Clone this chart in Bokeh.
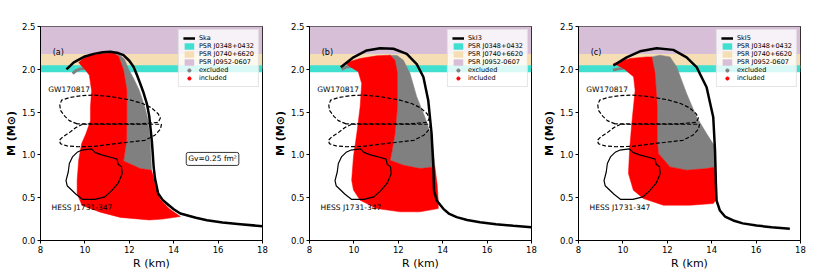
from bokeh.plotting import figure
from bokeh.layouts import row
from bokeh.models import Range1d, Label, Legend, LegendItem, FixedTicker, PrintfTickFormatter
from bokeh.embed import file_html
from bokeh.resources import INLINE

# ---------------- data ----------------
X_TICKS = [8, 10, 12, 14, 16, 18]
Y_TICKS = [0.0, 0.5, 1.0, 1.5, 2.0, 2.5]
X_MIN, X_MAX = 8, 18
Y_MIN, Y_MAX = 0.0, 2.5

PSR_NAMES = ["PSR J0348+0432", "PSR J0740+6620", "PSR J0952-0607"]
PSR_LOW = [1.965, 2.01, 2.18]
PSR_HIGH = [2.048, 2.18, 2.52]
PSR_COLORS = ["turquoise", "wheat", "thistle"]

EOS_NAMES = ["Ska", "SkI3", "SkI5"]
PANEL_TAGS = ["(a)", "(b)", "(c)"]
GV_TEXT = "Gv=0.25 fm²"

# EOS mass-radius curves
SKA_R = [9.17, 9.5, 10.0, 10.4, 10.8, 11.14, 11.5, 11.74, 12.0, 12.19, 12.35, 12.49, 12.65,
         12.79, 12.9, 12.96, 13.02, 13.06, 13.1, 13.16, 13.3, 13.5, 13.7, 14.0, 14.3, 15.0,
         15.5, 16.2, 17.0, 18.0]
SKA_M = [2.00, 2.08, 2.15, 2.18, 2.20, 2.205, 2.19, 2.165, 2.10, 2.03, 1.93, 1.834, 1.72,
         1.60, 1.45, 1.30, 1.15, 1.0, 0.85, 0.72, 0.55, 0.475, 0.43, 0.365, 0.315, 0.265,
         0.237, 0.21, 0.19, 0.167]
SKI3_R = [9.41, 9.98, 10.58, 11.18, 11.78, 12.38, 12.83, 13.13, 13.35, 13.5, 13.58, 13.61,
          13.73, 14.03, 14.3, 14.63, 15.1, 15.68, 16.4, 17.18, 18.0]
SKI3_M = [2.025, 2.14, 2.22, 2.247, 2.24, 2.18, 2.06, 1.91, 1.635, 1.246, 0.857, 0.584,
          0.467, 0.37, 0.31, 0.273, 0.24, 0.214, 0.19, 0.171, 0.156]
SKI5_R = [9.57, 10.17, 10.77, 11.52, 12.27, 12.87, 13.32, 13.77, 14.07, 14.15, 14.19, 14.22,
          14.37, 14.6, 14.97, 15.4, 16.02, 16.7, 17.52]
SKI5_M = [2.044, 2.14, 2.21, 2.247, 2.227, 2.14, 2.025, 1.79, 1.44, 1.05, 0.66, 0.467,
          0.35, 0.28, 0.234, 0.2, 0.175, 0.155, 0.136]

# excluded (gray) regions
EXCL_A_R = [11.29, 11.55, 11.78, 11.97, 12.22, 12.45, 12.7, 12.85, 12.94, 13.0, 13.0, 12.49,
            11.74, 11.88, 11.89, 11.89, 11.74, 11.52]
EXCL_A_M = [2.19, 2.17, 2.12, 2.0, 1.88, 1.756, 1.56, 1.405, 1.17, 0.86, 0.82, 0.84,
            0.93, 1.17, 1.40, 1.76, 1.99, 2.15]
EXCL_B_R = [11.6, 11.95, 12.23, 12.53, 12.83, 13.2, 13.5, 13.58, 13.65, 12.98, 12.23, 11.63,
            11.7, 11.85, 11.96, 11.96, 11.85]
EXCL_B_M = [2.165, 2.16, 2.106, 1.95, 1.68, 1.44, 1.21, 1.055, 0.86, 0.84, 0.88, 0.938,
            1.016, 1.25, 1.56, 1.95, 2.106]
EXCL_C_R = [11.3, 11.67, 12.12, 12.42, 12.87, 13.32, 13.77, 14.15, 14.19, 13.77, 12.87, 12.12,
            11.6, 11.55, 11.55, 11.45]
EXCL_C_M = [2.145, 2.165, 2.145, 2.03, 1.717, 1.444, 1.25, 1.094, 0.86, 0.84, 0.821, 0.86,
            1.016, 1.17, 1.56, 1.95]

# included (red) regions
INCL_A_R = [9.72, 9.9, 10.25, 10.8, 11.29, 11.52, 11.74, 11.89, 11.89, 11.88, 11.74, 12.49,
            13.0, 13.08, 13.2, 13.4, 13.8, 14.3, 13.5, 12.9, 11.6, 10.7, 9.87, 9.65, 9.65,
            9.72, 9.85, 10.05, 10.25, 10.25, 10.3, 10.2, 10.0, 9.85]
INCL_A_M = [2.08, 2.12, 2.165, 2.185, 2.19, 2.15, 1.99, 1.76, 1.40, 1.17, 0.93, 0.84,
            0.82, 0.75, 0.60, 0.48, 0.37, 0.28, 0.25, 0.24, 0.27, 0.33, 0.41, 0.55, 0.70,
            0.94, 1.13, 1.25, 1.40, 1.56, 1.75, 1.93, 2.0, 2.04]
INCL_B_R = [9.6, 10.28, 11.03, 11.63, 11.85, 11.96, 11.96, 11.85, 11.7, 11.63, 12.23, 12.98,
            13.65, 13.75, 13.8, 13.8, 12.98, 12.08, 11.03, 10.28, 9.98, 9.9, 9.98, 10.13,
            10.28, 10.35, 10.2, 9.83]
INCL_B_M = [2.075, 2.126, 2.157, 2.165, 2.106, 1.95, 1.56, 1.25, 1.016, 0.938, 0.88, 0.84,
            0.86, 0.65, 0.47, 0.373, 0.335, 0.335, 0.373, 0.47, 0.59, 0.705, 0.977, 1.25,
            1.56, 1.834, 1.97, 2.03]
INCL_C_R = [9.58, 10.33, 11.07, 11.3, 11.45, 11.55, 11.55, 11.6, 12.12, 12.87, 13.77, 14.19,
            14.19, 14.07, 13.02, 11.82, 10.92, 10.47, 10.25, 10.3, 10.4, 10.55, 10.48, 10.03]
INCL_C_M = [2.067, 2.126, 2.145, 2.145, 1.95, 1.56, 1.17, 1.016, 0.86, 0.821, 0.84, 0.86,
            0.47, 0.432, 0.412, 0.412, 0.49, 0.588, 0.782, 1.055, 1.367, 1.756, 1.912, 2.01]

# gray curls at the top-left of the excluded families
CURL_A_R = [9.45, 9.6, 9.8, 10.05]
CURL_A_M = [1.95, 1.985, 2.005, 2.01]
CURL_B_R = [9.45, 9.68, 10.13]
CURL_B_M = [1.997, 2.03, 2.036]
CURL_C_R = [9.55, 9.8, 10.05]
CURL_C_M = [1.99, 2.005, 2.012]

# GW170817 credible contours (dashed)
GW_UP_R = [9.65, 9.3, 9.1, 8.9, 8.87, 8.95, 9.3, 9.8, 10.4, 11.2, 12.0, 12.6, 13.0, 13.3,
           13.4, 13.3, 12.5, 11.5, 10.5, 9.65]
GW_UP_M = [1.362, 1.40, 1.45, 1.52, 1.58, 1.64, 1.67, 1.69, 1.70, 1.68, 1.645, 1.60, 1.55,
           1.48, 1.43, 1.38, 1.362, 1.362, 1.362, 1.362]
GW_LO_R = [9.9, 9.6, 9.3, 9.0, 8.85, 8.9, 9.2, 9.7, 10.4, 11.2, 12.0, 12.7, 13.15, 13.4,
           13.45, 13.0, 12.0, 11.0, 9.9]
GW_LO_M = [1.358, 1.32, 1.26, 1.21, 1.17, 1.13, 1.105, 1.095, 1.10, 1.125, 1.15, 1.17, 1.23,
           1.30, 1.358, 1.358, 1.358, 1.358, 1.358]

# HESS J1731-347 contour (solid)
HESS_R = [9.85, 10.3, 10.45, 10.75, 11.2, 11.45, 11.5, 11.65, 11.68, 11.5, 11.2, 10.9, 10.45,
          9.9, 9.6, 9.2, 9.15, 9.25, 9.3, 9.45, 9.65, 9.85]
HESS_M = [1.055, 1.07, 1.03, 1.00, 0.97, 0.95, 0.89, 0.86, 0.78, 0.67, 0.58, 0.51, 0.48,
          0.48, 0.54, 0.64, 0.70, 0.80, 0.90, 0.98, 1.03, 1.055]

LABEL_POS = {"tag": (8.55, 2.2), "gw": (8.35, 1.76), "hess": (8.5, 0.385), "gv": (15.75, 0.953)}

FONT = "DejaVu Sans"
NAN = float("nan")


def make_panel(i, eos_R, eos_M, excl_R, excl_M, incl_R, incl_M, curl_R, curl_M,
               right_border, show_gv=False):
    p = figure(frame_width=222, frame_height=214,
               x_range=Range1d(X_MIN, X_MAX), y_range=Range1d(Y_MIN, Y_MAX),
               output_backend="svg", toolbar_location=None,
               min_border_left=40, min_border_right=right_border,
               min_border_top=26, min_border_bottom=10,
               x_axis_label="R (km)", y_axis_label="M (M⊙)")
    p.xgrid.visible = False
    p.ygrid.visible = False
    p.outline_line_color = "black"
    p.outline_line_width = 1
    p.background_fill_color = "white"
    p.border_fill_color = "white"

    for ax in (p.xaxis[0], p.yaxis[0]):
        ax.major_tick_in = 0
        ax.major_tick_out = 3
        ax.minor_tick_line_color = None
        ax.major_label_text_font = FONT
        ax.major_label_text_font_size = "8.5px"
        ax.major_label_text_color = "black"
        ax.axis_label_text_font = FONT
        ax.axis_label_text_font_size = "11px"
        ax.axis_label_text_font_style = "normal"
        ax.axis_label_text_color = "black"
        ax.axis_line_color = "black"
        ax.major_label_standoff = 2
        ax.axis_label_standoff = 1
    p.xaxis[0].ticker = FixedTicker(ticks=X_TICKS)
    p.yaxis[0].ticker = FixedTicker(ticks=Y_TICKS)
    p.yaxis[0].formatter = PrintfTickFormatter(format="%.1f")
    p.yaxis[0].axis_label_text_font_style = "bold"

    # pulsar mass bands (drawn from top band down so turquoise is on top)
    band_r = {}
    for k in (2, 1, 0):
        band_r[k] = p.quad(left=[X_MIN], right=[X_MAX], bottom=[PSR_LOW[k]], top=[PSR_HIGH[k]],
                           fill_color=PSR_COLORS[k], line_color=None)

    # excluded / included families
    p.patch(excl_R, excl_M, fill_color="gray", line_color="gray", line_width=0.5)
    p.line(curl_R, curl_M, line_color="gray", line_width=3)
    p.patch(incl_R, incl_M, fill_color="red", line_color="red", line_width=0.5)

    # observational contours
    p.line(GW_UP_R, GW_UP_M, line_color="black", line_width=1.2, line_dash="4 2")
    p.line(GW_LO_R, GW_LO_M, line_color="black", line_width=1.2, line_dash="4 2")
    p.line(HESS_R, HESS_M, line_color="black", line_width=1.2)

    # EOS curve
    eos_r = p.line(eos_R, eos_M, line_color="black", line_width=2.5, line_join="round")

    # legend-only markers (no visible data point)
    exc_r = p.scatter(x=[NAN], y=[NAN], marker="circle", size=5.5, fill_color="gray",
                      line_color="gray")
    inc_r = p.scatter(x=[NAN], y=[NAN], marker="circle", size=5.5, fill_color="red",
                      line_color="red")

    # texts
    tx, ty = LABEL_POS["tag"]
    p.add_layout(Label(x=tx, y=ty, text=PANEL_TAGS[i], text_font=FONT, text_font_size="8px",
                       text_color="black", text_baseline="middle", text_align="left"))
    gx, gy = LABEL_POS["gw"]
    p.add_layout(Label(x=gx, y=gy, text="GW170817", text_font=FONT, text_font_size="7.5px",
                       text_color="black", text_baseline="middle", text_align="left"))
    hx, hy = LABEL_POS["hess"]
    p.add_layout(Label(x=hx, y=hy, text="HESS J1731-347", text_font=FONT,
                       text_font_size="7.5px", text_color="black",
                       text_baseline="middle", text_align="left"))
    if show_gv:
        vx, vy = LABEL_POS["gv"]
        p.add_layout(Label(x=vx, y=vy, text=GV_TEXT, text_font=FONT, text_font_size="7.5px",
                           text_color="black", text_baseline="middle", text_align="center",
                           border_line_color="black", border_line_width=0.8,
                           background_fill_color="white", padding=2, border_radius=2))

    items = [LegendItem(label=EOS_NAMES[i], renderers=[eos_r])]
    for k in (0, 1, 2):
        items.append(LegendItem(label=PSR_NAMES[k], renderers=[band_r[k]]))
    items.append(LegendItem(label="excluded", renderers=[exc_r]))
    items.append(LegendItem(label="included", renderers=[inc_r]))
    leg = Legend(items=items, location="top_right",
                 label_text_font=FONT, label_text_font_size="6.5px",
                 label_text_color="black",
                 glyph_height=8, glyph_width=12, label_height=8, spacing=0,
                 padding=4, margin=3, label_standoff=4,
                 background_fill_color="white", background_fill_alpha=0.8,
                 border_line_color="#cccccc", border_line_width=1)
    p.add_layout(leg)
    return p


pa = make_panel(0, SKA_R, SKA_M, EXCL_A_R, EXCL_A_M, INCL_A_R, INCL_A_M, CURL_A_R, CURL_A_M,
                7, show_gv=True)
pb = make_panel(1, SKI3_R, SKI3_M, EXCL_B_R, EXCL_B_M, INCL_B_R, INCL_B_M, CURL_B_R, CURL_B_M,
                7)
pc = make_panel(2, SKI5_R, SKI5_M, EXCL_C_R, EXCL_C_M, INCL_C_R, INCL_C_M, CURL_C_R, CURL_C_M,
                7)

layout = row(pa, pb, pc)
open("out.html", "w").write(file_html(layout, INLINE))
